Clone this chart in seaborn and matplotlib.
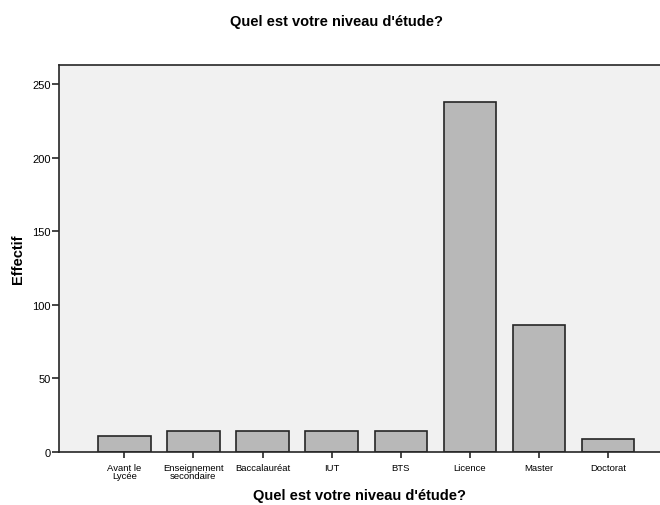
import matplotlib
matplotlib.use("Agg")
import matplotlib.pyplot as plt
import seaborn as sns
import pandas as pd

categories = ["Avant le\nLycée", "Enseignement\nsecondaire", "Baccalauréat", "IUT", "BTS",
              "Licence", "Master", "Doctorat"]
counts = [11, 14, 14, 14, 14, 238, 86, 9]
yticks = [0, 50, 100, 150, 200, 250]

sns.set_style("white")
plt.rcParams['font.family'] = ['Liberation Sans', 'DejaVu Sans']
plt.rcParams['text.color'] = 'black'
plt.rcParams['axes.labelcolor'] = 'black'
plt.rcParams['xtick.color'] = 'black'
plt.rcParams['ytick.color'] = 'black'

df = pd.DataFrame({"cat": categories, "n": counts})

fig = plt.figure(figsize=(6.6, 5.06), dpi=100)
ax = fig.add_axes([59/660, 1-453/506, 1-59/660, (453-66)/506])
ax.set_facecolor("#f1f1f1")
sns.barplot(data=df, x="cat", y="n", order=categories, color="#b8b8b8",
            edgecolor="#262626", linewidth=1.2, width=0.76, saturation=1, ax=ax)
ax.set_xlim(-0.944, 7.75)
ax.set_ylim(0, 263)
ax.set_yticks(yticks)
ax.set_yticklabels([str(v) for v in yticks], fontsize=8)
ax.tick_params(axis='y', length=5, width=1.2, color="#262626", pad=1, direction='out', left=True)
ax.tick_params(axis='x', length=4, width=1.2, color="#262626", pad=4, direction='out', bottom=True, labelsize=6.8)
for lbl in ax.get_xticklabels():
    lbl.set_linespacing(0.85)
for s in ["left", "top", "bottom"]:
    ax.spines[s].set_color("#262626")
    ax.spines[s].set_linewidth(1.2)
ax.spines["right"].set_visible(False)
ax.set_xlabel("Quel est votre niveau d'étude?", fontsize=10.5, fontweight='bold', labelpad=6)
ax.set_ylabel("Effectif", fontsize=10.5, fontweight='bold', labelpad=5)
fig.text(0.51, 1 - 22/506, "Quel est votre niveau d'étude?", fontsize=10.5, fontweight='bold',
         ha='center', va='center')
fig.savefig("out.png", dpi=100)
